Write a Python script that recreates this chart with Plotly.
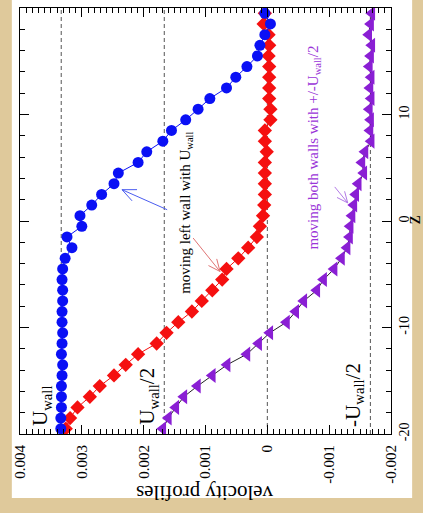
import math
import plotly.graph_objects as go

# wall speed and cell-centre positions across the channel
U_WALL = 1.0 / 300.0
z = [-19.5, -18.5, -17.5, -16.5, -15.5, -14.5, -13.5, -12.5, -11.5, -10.5,
     -9.5, -8.5, -7.5, -6.5, -5.5, -4.5, -3.5, -2.5, -1.5, -0.5,
     0.5, 1.5, 2.5, 3.5, 4.5, 5.5, 6.5, 7.5, 8.5, 9.5,
     10.5, 11.5, 12.5, 13.5, 14.5, 15.5, 16.5, 17.5, 18.5, 19.5]

# profile: left wall moving with U_wall (circles)
v_left_circles = [0.00334, 0.00334, 0.00333, 0.00333, 0.00333, 0.00332, 0.00331, 0.00333, 0.00332, 0.00331,
                  0.00332, 0.00332, 0.00331, 0.00331, 0.00332, 0.00331, 0.00327, 0.00316, 0.00324, 0.00300,
                  0.00303, 0.00284, 0.00268, 0.00248, 0.00241, 0.00209, 0.00195, 0.00169, 0.00155, 0.00132,
                  0.00112, 0.00093, 0.00066, 0.00051, 0.00033, 0.00016, 0.00012, 0.00004, -0.00005, 0.00004]

# profile: left wall moving with U_wall (diamonds)
v_left_diamonds = [0.00326, 0.00319, 0.00307, 0.00287, 0.00271, 0.00248, 0.00229, 0.00209, 0.00179, 0.00163,
                   0.00144, 0.00122, 0.00106, 0.00089, 0.00073, 0.00066, 0.00047, 0.00031, 0.00017, 0.00012,
                   0.00007, 0.00005, 0.00004, 0.00004, 0.00004, 0.00004, 0.00001, 0.00004, 0.00004, -0.00005,
                   -0.00005, -0.00003, -0.00003, -0.00003, -0.00003, -0.00002, -0.00003, -0.00002, 0.00006, 0.00004]

# profile: both walls moving with +/- U_wall/2 (triangles)
v_both = [0.00169, 0.00160, 0.00148, 0.00135, 0.00113, 0.00089, 0.00065, 0.00033, 0.00014, -0.00004,
          -0.00031, -0.00046, -0.00059, -0.00080, -0.00091, -0.00108, -0.00120, -0.00129, -0.00133, -0.00134,
          -0.00137, -0.00140, -0.00143, -0.00147, -0.00156, -0.00153, -0.00158, -0.00168, -0.00166, -0.00167,
          -0.00165, -0.00168, -0.00166, -0.00168, -0.00165, -0.00167, -0.00169, -0.00164, -0.00167, -0.00169]

# reference levels (multiples of U_wall)
ref_levels = [1.0, 0.5, 0.0, -0.5]

v_tickvals = [0.004, 0.003, 0.002, 0.001, 0.0, -0.001, -0.002]
v_ticktext = ["0.004", "0.003", "0.002", "0.001", "0", "-0.001", "-0.002"]
z_tickvals = [-20, -10, 0, 10, 20]
z_ticktext = ["-20", "-10", "0", "10", "20"]

V_RANGE = [0.004, -0.002]
Z_RANGE = [-20, 20]
W, H = 423, 513
M = dict(l=20, r=32, t=8, b=79)
PW = W - M["l"] - M["r"]
PH = H - M["t"] - M["b"]

SERIF = "Liberation Serif"
BLUE = "#0a10f5"
RED = "#f51010"
PURPLE = "#8a1fd4"


def to_px(v, zz):
    px = M["l"] + (v - V_RANGE[0]) / (V_RANGE[1] - V_RANGE[0]) * PW
    py = M["t"] + (Z_RANGE[1] - zz) / (Z_RANGE[1] - Z_RANGE[0]) * PH
    return px, py


def to_data(px, py):
    v = V_RANGE[0] + (px - M["l"]) / PW * (V_RANGE[1] - V_RANGE[0])
    zz = Z_RANGE[1] - (py - M["t"]) / PH * (Z_RANGE[1] - Z_RANGE[0])
    return v, zz


def arrow_path(tail, head, head_len=14, half_angle=0.42):
    """Open V-headed arrow as an SVG path in data coordinates."""
    tx, ty = to_px(*tail)
    hx, hy = to_px(*head)
    ang = math.atan2(ty - hy, tx - hx)
    wings = []
    for s in (-1, 1):
        a = ang + s * half_angle
        wings.append((hx + head_len * math.cos(a), hy + head_len * math.sin(a)))
    d_tail = to_data(tx, ty)
    d_head = to_data(hx, hy)
    w1 = to_data(*wings[0])
    w2 = to_data(*wings[1])
    return (f"M {d_tail[0]},{d_tail[1]} L {d_head[0]},{d_head[1]} "
            f"M {w1[0]},{w1[1]} L {d_head[0]},{d_head[1]} L {w2[0]},{w2[1]}")


fig = go.Figure()

fig.add_trace(go.Scatter(
    x=v_left_diamonds, y=z, mode="lines+markers",
    line=dict(color=RED, width=1),
    marker=dict(symbol="diamond", size=11, color=RED),
    showlegend=False))
fig.add_trace(go.Scatter(
    x=v_left_circles, y=z, mode="lines+markers",
    line=dict(color=BLUE, width=1),
    marker=dict(symbol="circle", size=11, color=BLUE),
    showlegend=False))
fig.add_trace(go.Scatter(
    x=v_both, y=z, mode="lines+markers",
    line=dict(color="#222222", width=1),
    marker=dict(symbol="triangle-left", size=13, color=PURPLE),
    showlegend=False))

shapes = [dict(type="rect", xref="paper", yref="paper",
               x0=-0.022, x1=1.057, y0=-0.150, y1=1.05,
               fillcolor="white", line=dict(width=0), layer="below")]
for lev in ref_levels:
    shapes.append(dict(type="line", xref="x", yref="paper",
                       x0=lev * U_WALL, x1=lev * U_WALL, y0=0, y1=1,
                       line=dict(color="#555555", width=1, dash="4px,3px"),
                       layer="below"))

shapes.append(dict(type="path", xref="x", yref="y",
                   path=arrow_path((0.00162, 1.06), (0.00235, 2.94), head_len=15),
                   line=dict(color="#4a5cf0", width=1)))
shapes.append(dict(type="path", xref="x", yref="y",
                   path=arrow_path((0.00120, -1.6), (0.000765, -4.74), head_len=13),
                   line=dict(color="#e07474", width=1)))
shapes.append(dict(type="path", xref="x", yref="y",
                   path=arrow_path((-0.00109, 3.2), (-0.00130, 1.7), head_len=12),
                   line=dict(color="#b27ae6", width=1)))

annotations = [
    dict(x=0.00365, y=-17.4, text="U<sub>wall</sub>", textangle=-90,
         font=dict(family=SERIF, size=21, color="black")),
    dict(x=0.00193, y=-16.4, text="U<sub>wall</sub>/2", textangle=-90,
         font=dict(family=SERIF, size=21, color="black")),
    dict(x=-0.00139, y=-16.3, text="-U<sub>wall</sub>/2", textangle=-90,
         font=dict(family=SERIF, size=21, color="black")),
    dict(x=0.00131, y=0.8, text="moving left wall with U<sub>wall</sub>", textangle=-90,
         font=dict(family=SERIF, size=15, color="black")),
    dict(x=-0.00074, y=6.9, text="moving both walls with +/-U<sub>wall</sub>/2", textangle=-90,
         font=dict(family=SERIF, size=15, color="#9a35d8")),
    dict(x=0.4987, y=-0.138, xref="paper", yref="paper", text="velocity profiles",
         textangle=180, font=dict(family=SERIF, size=21, color="black")),
    dict(x=1.058, y=0.503, xref="paper", yref="paper", text="z",
         textangle=-90, font=dict(family=SERIF, size=20, color="black")),
]
for a in annotations:
    a.setdefault("xref", "x")
    a.setdefault("yref", "y")
    a["showarrow"] = False
    a["xanchor"] = "center"
    a["yanchor"] = "middle"

fig.update_layout(
    width=W, height=H, margin=M,
    paper_bgcolor="#dfc99b", plot_bgcolor="white",
    shapes=shapes, annotations=annotations,
    xaxis=dict(range=V_RANGE, tickvals=v_tickvals, ticktext=v_ticktext,
               tickangle=-90, ticks="inside", ticklen=9, tickcolor="black",
               showline=True, linecolor="black", linewidth=1, mirror="allticks",
               showgrid=False, zeroline=False, automargin=False,
               ticklabelstandoff=4,
               tickfont=dict(family=SERIF, size=15, color="black"),
               minor=dict(dtick=0.0001, tick0=0, ticks="inside", ticklen=5,
                          tickcolor="black", showgrid=False)),
    yaxis=dict(range=Z_RANGE, tickvals=z_tickvals, ticktext=z_ticktext, side="right",
               tickangle=-90, ticks="inside", ticklen=9, tickcolor="black",
               showline=True, linecolor="black", linewidth=1, mirror="allticks",
               showgrid=False, zeroline=False, automargin=False,
               tickfont=dict(family=SERIF, size=14, color="black"),
               minor=dict(dtick=2, tick0=0, ticks="inside", ticklen=5,
                          tickcolor="black", showgrid=False)),
)

fig.write_html("out.html")
